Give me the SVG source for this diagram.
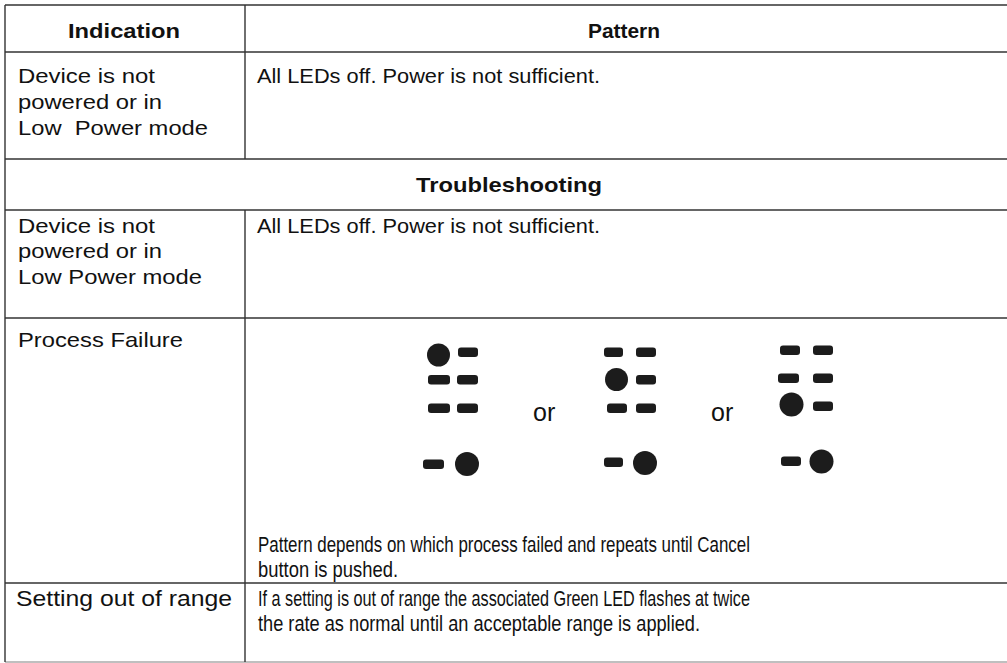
<svg xmlns="http://www.w3.org/2000/svg" width="1007" height="663" viewBox="0 0 1007 663">
<defs>
<filter id="soft" x="-20%" y="-20%" width="140%" height="140%"><feGaussianBlur stdDeviation="0.6"/></filter>
</defs>
<style>
.t{font-family:"Liberation Sans",Arial,sans-serif;font-size:21px;fill:#111;white-space:pre}
.b{font-weight:bold}
.n{font-size:22.5px}
.ln{stroke:#333;stroke-width:1.4;fill:none}
.led{fill:#1c1c1c}
</style>
<rect width="1007" height="663" fill="#fff"/>
<g id="grid">
<line class="ln" x1="5" y1="5" x2="1007" y2="5"/>
<line class="ln" x1="5" y1="52" x2="1007" y2="52"/>
<line class="ln" x1="5" y1="159" x2="1007" y2="159"/>
<line class="ln" x1="5" y1="210" x2="1007" y2="210"/>
<line class="ln" x1="5" y1="318" x2="1007" y2="318"/>
<line class="ln" x1="5" y1="583" x2="1007" y2="583"/>
<line x1="5" y1="662" x2="1007" y2="662" stroke="#aaa" stroke-width="1.4"/>
<line class="ln" x1="5" y1="5" x2="5" y2="662"/>
<line class="ln" x1="245" y1="5" x2="245" y2="159"/>
<line class="ln" x1="245" y1="210" x2="245" y2="662"/>
</g>
<g id="header">
<text class="t b" x="68" y="38" textLength="112" lengthAdjust="spacingAndGlyphs">Indication</text>
<text class="t b" x="588" y="38" textLength="72" lengthAdjust="spacingAndGlyphs">Pattern</text>
</g>
<g id="row-not-powered">
<text class="t" x="18" y="83" textLength="137" lengthAdjust="spacingAndGlyphs">Device is not</text>
<text class="t" x="18" y="109" textLength="144" lengthAdjust="spacingAndGlyphs">powered or in</text>
<text class="t" x="18" y="135" textLength="190" lengthAdjust="spacingAndGlyphs">Low  Power mode</text>
<text class="t" x="257" y="83" textLength="343" lengthAdjust="spacingAndGlyphs">All LEDs off. Power is not sufficient.</text>
</g>
<g id="troubleshooting-header">
<text class="t b" x="416" y="192" textLength="186" lengthAdjust="spacingAndGlyphs">Troubleshooting</text>
</g>
<g id="row-not-powered-2">
<text class="t" x="18" y="233" textLength="137" lengthAdjust="spacingAndGlyphs">Device is not</text>
<text class="t" x="18" y="258" textLength="144" lengthAdjust="spacingAndGlyphs">powered or in</text>
<text class="t" x="18" y="284" textLength="184" lengthAdjust="spacingAndGlyphs">Low Power mode</text>
<text class="t" x="257" y="233" textLength="343" lengthAdjust="spacingAndGlyphs">All LEDs off. Power is not sufficient.</text>
</g>
<g id="row-process-failure">
<text class="t" x="18" y="347" textLength="165" lengthAdjust="spacingAndGlyphs">Process Failure</text>
<g id="pattern-1" class="led" filter="url(#soft)">
<circle cx="438.5" cy="355" r="11.5"/>
<rect x="458" y="347.5" width="20" height="9.5" rx="3"/>
<rect x="428" y="375" width="22" height="9.5" rx="3"/>
<rect x="457" y="375" width="21" height="9.5" rx="3"/>
<rect x="428" y="403.5" width="22" height="9.5" rx="3"/>
<rect x="457" y="403.5" width="21" height="9.5" rx="3"/>
<rect x="423" y="459.5" width="21" height="9.5" rx="3"/>
<circle cx="467" cy="464" r="12"/>
</g>
<text class="t" x="533" y="421" style="font-size:25px">or</text>
<g id="pattern-2" class="led" filter="url(#soft)">
<rect x="604" y="347.5" width="19" height="9.5" rx="3"/>
<rect x="636" y="347.5" width="20" height="9.5" rx="3"/>
<circle cx="616.5" cy="379.5" r="11.5"/>
<rect x="636" y="375" width="20" height="9.5" rx="3"/>
<rect x="607" y="403.5" width="20" height="9.5" rx="3"/>
<rect x="636" y="403.5" width="20" height="9.5" rx="3"/>
<rect x="604" y="457.5" width="19" height="9.5" rx="3"/>
<circle cx="645" cy="463" r="12"/>
</g>
<text class="t" x="711" y="421" style="font-size:25px">or</text>
<g id="pattern-3" class="led" filter="url(#soft)">
<rect x="780" y="345.5" width="20" height="9.5" rx="3"/>
<rect x="813" y="345.5" width="20" height="9.5" rx="3"/>
<rect x="778" y="373.5" width="21" height="9.5" rx="3"/>
<rect x="813" y="373.5" width="20" height="9.5" rx="3"/>
<circle cx="791.5" cy="404.5" r="12"/>
<rect x="813" y="401.5" width="20" height="9.5" rx="3"/>
<rect x="781" y="456.5" width="20" height="9.5" rx="3"/>
<circle cx="821.5" cy="461.5" r="12"/>
</g>
<text class="t n" x="258" y="552" textLength="492" lengthAdjust="spacingAndGlyphs">Pattern depends on which process failed and repeats until Cancel</text>
<text class="t n" x="258" y="577" textLength="140" lengthAdjust="spacingAndGlyphs">button is pushed.</text>
</g>
<g id="row-setting-out-of-range">
<text class="t" x="16" y="606" textLength="216" lengthAdjust="spacingAndGlyphs" style="font-size:22px">Setting out of range</text>
<text class="t n" x="258" y="606" textLength="492" lengthAdjust="spacingAndGlyphs">If a setting is out of range the associated Green LED flashes at twice</text>
<text class="t n" x="258" y="631" textLength="442" lengthAdjust="spacingAndGlyphs">the rate as normal until an acceptable range is applied.</text>
</g>
</svg>
